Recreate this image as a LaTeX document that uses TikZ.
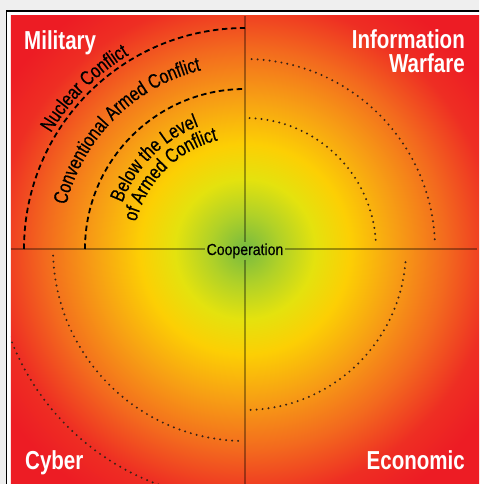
\documentclass[tikz,border=0pt]{standalone}
\usepackage{fontspec}
\usetikzlibrary{decorations.text}
\newfontfamily\quadfont[FakeStretch=0.79]{Liberation Sans}
\newfontfamily\bandfont[FakeStretch=0.79, FakeBold=0.5]{Liberation Sans}
\newfontfamily\coopfont[FakeStretch=0.88, FakeBold=0.4]{Liberation Sans}
\newcommand\bandsize{\bandfont\fontsize{20}{23}\selectfont}
\definecolor{pagegray}{RGB}{239,239,239}
\definecolor{glow0}{RGB}{118,186,64}
\definecolor{glow1}{RGB}{176,209,40}
\definecolor{glow2}{RGB}{228,226,14}
\definecolor{glow3}{RGB}{252,207,4}
\definecolor{glow4}{RGB}{247,160,20}
\definecolor{glow5}{RGB}{243,106,30}
\definecolor{glow6}{RGB}{238,46,35}
\definecolor{glow7}{RGB}{237,28,36}
\definecolor{dotbrown}{RGB}{55,35,22}
% the shaded box (+-350) maps to +-25bp, so 1bp = 14 units
\pgfdeclareradialshading{conflictglow}{\pgfpointorigin}{%
  color(0bp)=(glow0); color(2.5bp)=(glow1); color(5bp)=(glow2); color(7.5bp)=(glow3);
  color(10.7bp)=(glow4); color(14.3bp)=(glow5); color(17.85bp)=(glow6);
  color(20.7bp)=(glow7); color(50bp)=(glow7)}
\def\ringarc[#1](#2:#3:#4){\draw[#1] (#2:#4) arc (#2:#3:#4);}
\def\ringtext(#1)#2{\path[decorate, decoration={text along path, text align=center,
    text={|\bandsize|#2}}] (180:#1) arc (180:90:#1);}

\begin{document}
\begin{tikzpicture}[x=1pt, y=1pt,
    quadlabel/.style={text=white, inner sep=0pt, font=\quadfont\bfseries\fontsize{26}{30}\selectfont},
    conflictdash/.style={line width=1.8pt, dash pattern=on 5.5pt off 3.5pt},
    calmdots/.style={dotbrown, line width=2.2pt, line cap=round, dash pattern=on 0pt off 6pt},
    axisline/.style={black, opacity=0.35, line width=1.1pt}]
		%%%%% START %%%%%
		
		\useasboundingbox (-245,-235) rectangle (234,249);
		\clip (-245,-235) rectangle (234,249);
		\fill[pagegray] (-245,-235) rectangle (234,249);
		\draw[line width=1.5pt, fill=white] (-238.5,-260) rectangle (260,238.2);
		
		\begin{scope}
		\clip (-234,-240) rectangle (240,233);
		\shade[shading=conflictglow] (-350,-350) rectangle (350,350);
		
		% axes
		\node[font=\coopfont\fontsize{16}{19}\selectfont, inner sep=1pt, anchor=base] (coop) at (0,-6) {Cooperation};
		\coordinate (axtop) at (0,233);
		\coordinate (axbot) at (0,-235);
		\coordinate (axleft) at (-234,0);
		\coordinate (axright) at (232,0);
		\draw[axisline] (axtop) -- (coop.north);
		\draw[axisline] (coop.south) -- (axbot);
		\draw[axisline] (axleft) -- (axleft -| coop.west);
		\draw[axisline] (axright -| coop.east) -- (axright);
		
		% military rings
		\ringarc[conflictdash](180:90:221)
		\ringarc[conflictdash](180:90:160)
		\ringtext(226){Nuclear Conflict}
		\ringtext(184){Conventional Armed Conflict}
		\ringtext(131){Below the Level}
		\ringtext(112){of Armed Conflict}
		
		% other rings
		\ringarc[calmdots](88:2:190)
		\ringarc[calmdots](88:2:131)
		\ringarc[calmdots](182:268:192)
		\ringarc[calmdots](195:260:251)
		\ringarc[calmdots](272:357:161)
		
		% quadrants
		\node[quadlabel, anchor=base west] (military) at (-221,199) {Military};
		\node[quadlabel, anchor=base east] (info) at (220,200) {Information};
		\node[quadlabel, anchor=base east] (warfare) at (220,176) {Warfare};
		\node[quadlabel, anchor=base west] (cyber) at (-220,-220) {Cyber};
		\node[quadlabel, anchor=base east] (economic) at (220,-220) {Economic};
		\end{scope}
		
		%%%%% END %%%%%
\end{tikzpicture}
\end{document}
